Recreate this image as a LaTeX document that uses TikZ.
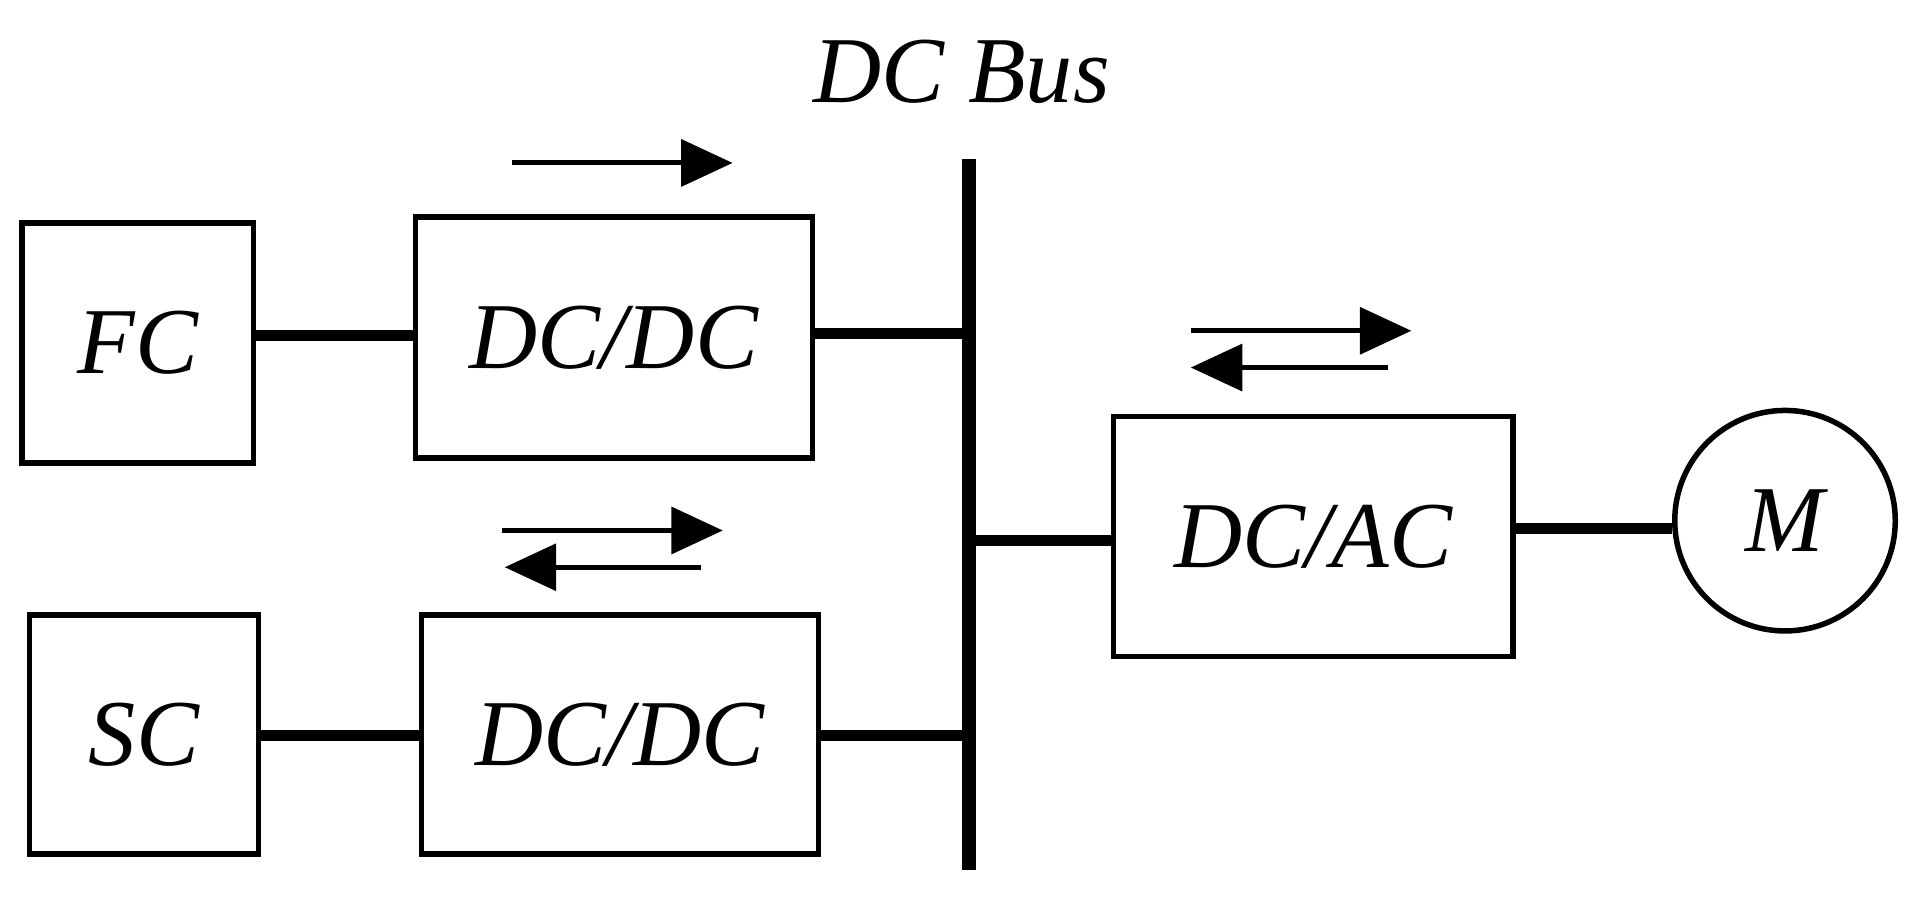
\documentclass[tikz,border=0pt]{standalone}
\usepackage{fontspec}
\setmainfont{Liberation Serif}
\usetikzlibrary{arrows.meta}
\begin{document}
\begin{tikzpicture}[x=1pt,y=-1pt,
  box/.style={draw,line width=4.5pt,inner sep=0pt},
  lbl/.style={font=\fontsize{77}{88}\selectfont\itshape},
  conn/.style={line width=9pt},
  flow/.style={line width=4pt,-{Triangle[length=42pt,width=38pt]}}]
\useasboundingbox (0,0) rectangle (1568,753);
\node[box,minimum width=189pt,minimum height=196pt,lbl] (fc) at (112.5,280) {FC};
\node[box,minimum width=324pt,minimum height=197pt,lbl] (dd1) at (501,275.5) {DC/DC};
\node[box,minimum width=187pt,minimum height=195pt,lbl] (sc) at (117.5,599.5) {SC};
\node[box,minimum width=324pt,minimum height=195pt,lbl] (dd2) at (506,599.5) {DC/DC};
\node[box,minimum width=326pt,minimum height=196pt,lbl] (da) at (1072,438) {DC/AC};
\node[draw,circle,line width=4.5pt,minimum size=180pt,lbl,inner sep=0pt] (m) at (1457,425) {M};
\coordinate (bt) at (791,130);
\coordinate (bb) at (791,710);
\draw[line width=11pt] (bt) -- (bb);
\node[lbl,anchor=south] (bus) at (785,88) {DC Bus};
\draw[conn] (fc.east|-0,274) -- (dd1.west|-0,274);
\draw[conn] (dd1.east|-0,272) -- (791,272);
\draw[conn] (sc.east|-0,600) -- (dd2.west|-0,600);
\draw[conn] (dd2.east|-0,600) -- (791,600);
\draw[conn] (791,441) -- (da.west|-0,441);
\draw[conn] (da.east|-0,431) -- (m.west|-0,431);
\coordinate (a1) at (418,133); \coordinate (a1e) at (598,133);
\draw[flow] (a1) -- (a1e);
\coordinate (b1) at (410,433); \coordinate (b1e) at (590,433);
\coordinate (b2) at (572,463); \coordinate (b2e) at (412,463);
\draw[flow] (b1) -- (b1e); \draw[flow] (b2) -- (b2e);
\coordinate (c1) at (972,270); \coordinate (c1e) at (1152,270);
\coordinate (c2) at (1133,300); \coordinate (c2e) at (972,300);
\draw[flow] (c1) -- (c1e); \draw[flow] (c2) -- (c2e);
\end{tikzpicture}
\end{document}
